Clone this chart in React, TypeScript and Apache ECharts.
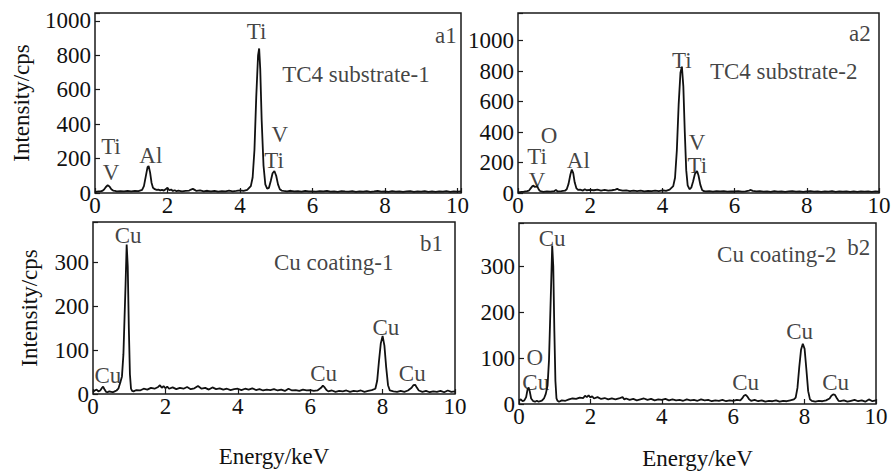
import React, { useEffect, useRef } from "react";
import * as echarts from "echarts";

// ---- Data: EDS spectra (energy keV, intensity cps) ----
const spectrumA1: [number, number][] = [
  [0, 5], [0.05, 8], [0.1, 10], [0.15, 9], [0.2, 12], [0.25, 20], [0.3, 35], [0.35, 45], [0.4, 38], [0.45, 22],
  [0.5, 14], [0.55, 12], [0.6, 10], [0.7, 11], [0.8, 9], [0.9, 12], [1.0, 10], [1.1, 12], [1.2, 11], [1.3, 18],
  [1.35, 40], [1.4, 95], [1.45, 150], [1.48, 157], [1.52, 120], [1.56, 60], [1.6, 30], [1.65, 22], [1.7, 18], [1.75, 20],
  [1.8, 15], [1.85, 18], [1.9, 14], [1.95, 22], [2.0, 30], [2.05, 16], [2.1, 20], [2.15, 12], [2.2, 16], [2.25, 10],
  [2.3, 14], [2.4, 10], [2.5, 12], [2.6, 14], [2.65, 20], [2.7, 24], [2.75, 18], [2.8, 12], [2.9, 15], [3.0, 10],
  [3.1, 13], [3.2, 9], [3.3, 12], [3.4, 8], [3.5, 11], [3.6, 9], [3.7, 14], [3.8, 10], [3.9, 12], [4.0, 15],
  [4.1, 12], [4.2, 18], [4.3, 40], [4.35, 90], [4.4, 250], [4.45, 560], [4.5, 800], [4.53, 840], [4.56, 720], [4.6, 420],
  [4.65, 160], [4.7, 50], [4.75, 25], [4.8, 30], [4.85, 70], [4.9, 115], [4.95, 128], [5.0, 100], [5.05, 50], [5.1, 22],
  [5.15, 14], [5.2, 12], [5.3, 10], [5.4, 13], [5.5, 9], [5.6, 11], [5.7, 8], [5.8, 12], [5.9, 9], [6.0, 10],
  [6.1, 8], [6.2, 11], [6.3, 9], [6.4, 12], [6.5, 8], [6.6, 10], [6.7, 7], [6.8, 11], [6.9, 9], [7.0, 8],
  [7.1, 11], [7.2, 7], [7.3, 10], [7.4, 8], [7.5, 11], [7.6, 7], [7.7, 9], [7.8, 12], [7.9, 8], [8.0, 10],
  [8.1, 7], [8.2, 11], [8.3, 8], [8.4, 10], [8.5, 6], [8.6, 9], [8.7, 11], [8.8, 7], [8.9, 10], [9.0, 8],
  [9.1, 11], [9.2, 7], [9.3, 9], [9.4, 6], [9.5, 10], [9.6, 8], [9.7, 11], [9.8, 7], [9.9, 9], [10.0, 8], [10.1, 9],
];

const spectrumA2: [number, number][] = [
  [0, 5], [0.05, 6], [0.1, 8], [0.15, 7], [0.2, 10], [0.25, 12], [0.3, 15], [0.35, 30], [0.4, 45], [0.43, 48],
  [0.46, 40], [0.5, 42], [0.53, 45], [0.56, 30], [0.6, 15], [0.65, 10], [0.7, 8], [0.8, 10], [0.9, 9], [1.0, 12],
  [1.05, 20], [1.1, 10], [1.2, 12], [1.3, 15], [1.35, 25], [1.4, 60], [1.45, 120], [1.49, 154], [1.53, 130], [1.57, 70],
  [1.62, 30], [1.67, 20], [1.72, 22], [1.8, 16], [1.85, 25], [1.9, 18], [2.0, 20], [2.1, 18], [2.2, 22], [2.3, 16],
  [2.4, 20], [2.5, 15], [2.6, 18], [2.7, 22], [2.75, 28], [2.8, 20], [2.9, 15], [3.0, 17], [3.1, 13], [3.2, 16],
  [3.3, 12], [3.4, 15], [3.5, 11], [3.6, 14], [3.7, 12], [3.8, 16], [3.9, 13], [4.0, 18], [4.1, 14], [4.2, 22],
  [4.3, 45], [4.35, 100], [4.4, 280], [4.45, 580], [4.5, 790], [4.54, 830], [4.58, 700], [4.62, 400], [4.66, 150], [4.7, 50],
  [4.75, 25], [4.8, 35], [4.85, 75], [4.9, 125], [4.96, 145], [5.0, 115], [5.05, 55], [5.1, 20], [5.15, 12], [5.2, 10],
  [5.3, 12], [5.4, 9], [5.5, 13], [5.6, 10], [5.7, 12], [5.8, 9], [5.9, 11], [6.0, 10], [6.1, 13], [6.2, 9],
  [6.3, 11], [6.4, 16], [6.45, 20], [6.5, 14], [6.6, 10], [6.7, 12], [6.8, 9], [6.9, 11], [7.0, 8], [7.1, 12],
  [7.2, 9], [7.3, 11], [7.4, 8], [7.5, 10], [7.6, 12], [7.7, 9], [7.8, 11], [7.9, 8], [8.0, 10], [8.1, 12],
  [8.2, 9], [8.3, 11], [8.4, 8], [8.5, 10], [8.6, 9], [8.7, 12], [8.8, 8], [8.9, 10], [9.0, 9], [9.1, 11],
  [9.2, 8], [9.3, 10], [9.4, 7], [9.5, 11], [9.6, 9], [9.7, 10], [9.8, 8], [9.9, 11], [10.0, 9],
];

const spectrumB1: [number, number][] = [
  [0, 5], [0.05, 8], [0.1, 10], [0.15, 6], [0.2, 8], [0.25, 14], [0.28, 17], [0.32, 10], [0.36, 5], [0.4, 4],
  [0.45, 6], [0.5, 5], [0.55, 4], [0.6, 6], [0.65, 8], [0.7, 12], [0.75, 25], [0.8, 40], [0.84, 90], [0.9, 250],
  [0.93, 340], [0.96, 290], [0.99, 150], [1.02, 45], [1.05, 12], [1.08, 7], [1.12, 6], [1.2, 9], [1.3, 8], [1.4, 12],
  [1.5, 10], [1.6, 14], [1.7, 12], [1.8, 16], [1.85, 20], [1.9, 14], [1.95, 18], [2.0, 13], [2.05, 17], [2.1, 12],
  [2.2, 15], [2.3, 11], [2.4, 14], [2.5, 12], [2.6, 16], [2.7, 11], [2.8, 13], [2.9, 18], [3.0, 12], [3.1, 14],
  [3.2, 10], [3.3, 15], [3.4, 11], [3.5, 13], [3.6, 10], [3.7, 12], [3.8, 9], [3.9, 11], [4.0, 12], [4.1, 9],
  [4.2, 12], [4.3, 10], [4.4, 13], [4.5, 9], [4.6, 11], [4.7, 8], [4.8, 10], [4.9, 9], [5.0, 11], [5.1, 8],
  [5.2, 10], [5.3, 7], [5.4, 12], [5.5, 8], [5.6, 9], [5.7, 7], [5.8, 10], [5.9, 8], [6.0, 9], [6.1, 7],
  [6.2, 8], [6.3, 14], [6.35, 19], [6.4, 15], [6.45, 9], [6.5, 6], [6.6, 8], [6.7, 5], [6.8, 7], [6.9, 6],
  [7.0, 8], [7.1, 5], [7.2, 7], [7.3, 6], [7.4, 8], [7.5, 5], [7.6, 7], [7.7, 9], [7.8, 12], [7.85, 30],
  [7.9, 75], [7.95, 115], [8.0, 132], [8.05, 110], [8.1, 60], [8.15, 20], [8.2, 8], [8.3, 6], [8.4, 5], [8.5, 7],
  [8.6, 5], [8.7, 8], [8.8, 14], [8.85, 20], [8.9, 21], [8.95, 14], [9.0, 8], [9.1, 5], [9.2, 7], [9.3, 4],
  [9.4, 6], [9.5, 5], [9.6, 7], [9.7, 4], [9.8, 8], [9.9, 5], [10.0, 6],
];

const spectrumB2: [number, number][] = [
  [0, 8], [0.05, 10], [0.1, 6], [0.15, 8], [0.2, 15], [0.24, 32], [0.27, 36], [0.3, 28], [0.34, 12], [0.4, 6],
  [0.45, 5], [0.5, 7], [0.55, 5], [0.6, 6], [0.65, 8], [0.7, 12], [0.75, 22], [0.8, 40], [0.84, 95], [0.9, 260],
  [0.93, 345], [0.96, 300], [0.99, 160], [1.02, 50], [1.05, 12], [1.08, 7], [1.12, 5], [1.2, 8], [1.3, 7], [1.4, 10],
  [1.5, 12], [1.6, 11], [1.7, 14], [1.8, 13], [1.85, 18], [1.9, 15], [1.95, 19], [2.0, 14], [2.05, 17], [2.1, 12],
  [2.2, 15], [2.3, 11], [2.4, 13], [2.5, 10], [2.6, 12], [2.7, 10], [2.8, 12], [2.9, 15], [2.95, 10], [3.0, 12],
  [3.1, 9], [3.2, 11], [3.3, 8], [3.4, 10], [3.5, 12], [3.6, 9], [3.7, 11], [3.8, 8], [3.9, 10], [4.0, 9],
  [4.1, 11], [4.2, 8], [4.3, 10], [4.4, 8], [4.5, 9], [4.6, 7], [4.7, 10], [4.8, 8], [4.9, 9], [5.0, 7],
  [5.1, 10], [5.2, 8], [5.3, 9], [5.4, 6], [5.5, 8], [5.6, 7], [5.7, 9], [5.8, 6], [5.9, 8], [6.0, 7],
  [6.1, 9], [6.2, 8], [6.25, 12], [6.3, 18], [6.35, 20], [6.4, 16], [6.45, 10], [6.5, 7], [6.6, 9], [6.7, 6],
  [6.8, 8], [6.9, 5], [7.0, 7], [7.1, 6], [7.2, 8], [7.3, 5], [7.4, 7], [7.5, 6], [7.6, 8], [7.7, 10],
  [7.75, 14], [7.8, 35], [7.85, 80], [7.9, 118], [7.95, 131], [8.0, 120], [8.05, 75], [8.1, 28], [8.15, 10], [8.2, 7],
  [8.3, 5], [8.4, 7], [8.5, 6], [8.6, 8], [8.7, 12], [8.75, 18], [8.8, 21], [8.85, 20], [8.9, 13], [8.95, 7],
  [9.0, 6], [9.1, 8], [9.2, 5], [9.3, 7], [9.4, 9], [9.5, 6], [9.6, 8], [9.7, 5], [9.8, 10], [9.9, 6], [10.0, 8],
];

// annotation texts at [energy, intensity]
const labelsA1: [number, number, string][] = [
  [4.46, 936, "Ti"], [9.68, 917, "a1"], [7.2, 690, "TC4 substrate-1"], [0.44, 272, "Ti"], [0.44, 118, "V"],
  [1.54, 219, "Al"], [5.1, 340, "V"], [4.94, 190, "Ti"],
];
const labelsA2: [number, number, string][] = [
  [9.47, 1049, "a2"], [4.54, 868, "Ti"], [7.36, 796, "TC4 substrate-2"], [4.96, 332, "V"], [4.97, 180, "Ti"],
  [1.67, 215, "Al"], [0.86, 375, "O"], [0.53, 240, "Ti"], [0.53, 84, "V"],
];
const labelsB1: [number, number, string][] = [
  [0.97, 360, "Cu"], [9.35, 341, "b1"], [6.65, 300, "Cu coating-1"], [0.41, 42, "Cu"], [6.37, 47, "Cu"],
  [8.09, 151, "Cu"], [8.82, 47, "Cu"],
];
const labelsB2: [number, number, string][] = [
  [0.93, 360, "Cu"], [9.52, 340, "b2"], [7.22, 325, "Cu coating-2"], [0.44, 101, "O"], [0.47, 47, "Cu"],
  [6.35, 47, "Cu"], [7.86, 158, "Cu"], [8.87, 47, "Cu"],
];

const xTickStep = 2;
const yTickStepA = 200;
const yTickStepB = 100;
const yNameText = "Intensity/cps";
const xNameText = "Energy/keV";

const FONT = "'Liberation Serif', 'Times New Roman', serif";
const INK = "#111";
const FS = 23;

export default function App() {
  const ref = useRef<HTMLDivElement>(null);
  useEffect(() => {
    document.body.style.margin = "0";
    if (!ref.current) return;
    const chart = echarts.init(ref.current, undefined, { renderer: "svg" });

    const grids = [
      { left: 95, top: 13, width: 366, height: 180 },
      { left: 518, top: 13, width: 361, height: 180 },
      { left: 93, top: 222, width: 362, height: 172 },
      { left: 519, top: 223, width: 357, height: 185 },
    ];
    const xMax = [10.1, 10, 10, 10];
    const yMax = [1046, 1182, 391, 394];
    const yStep = [yTickStepA, yTickStepA, yTickStepB, yTickStepB];
    const spectra = [spectrumA1, spectrumA2, spectrumB1, spectrumB2];
    const labels = [labelsA1, labelsA2, labelsB1, labelsB2];

    const fmt = (step: number) => (v: number) =>
      Math.abs(v / step - Math.round(v / step)) < 1e-6 ? String(Math.round(v)) : "";

    const option: any = {
      animation: false,
      backgroundColor: "#fff",
      textStyle: { fontFamily: FONT, color: INK },
      grid: grids.map((g) => ({ ...g, show: true, borderColor: "#1a1a1a", borderWidth: 1.5, backgroundColor: "transparent" })),
      xAxis: grids.map((_, i) => ({
        type: "value",
        gridIndex: i,
        min: 0,
        max: xMax[i],
        interval: xTickStep,
        axisLine: { show: false },
        axisTick: { show: true, inside: true, length: 5, lineStyle: { color: "#1a1a1a", width: 1.2 } },
        axisLabel: { fontFamily: FONT, fontSize: FS, color: INK, margin: 1, formatter: fmt(xTickStep) },
        splitLine: { show: false },
        name: i >= 2 ? xNameText : "",
        nameLocation: "middle",
        nameGap: i === 2 ? 51 : 43,
        nameTextStyle: { fontFamily: FONT, fontSize: FS, color: INK, verticalAlign: "top" },
      })),
      yAxis: grids.map((_, i) => ({
        type: "value",
        gridIndex: i,
        min: 0,
        max: yMax[i],
        interval: yStep[i],
        axisLine: { show: false },
        axisTick: { show: true, inside: true, length: 5, lineStyle: { color: "#1a1a1a", width: 1.2 } },
        axisLabel: { fontFamily: FONT, fontSize: FS, color: INK, margin: 4, formatter: fmt(yStep[i]) },
        splitLine: { show: false },
        name: i === 0 || i === 2 ? yNameText : "",
        nameLocation: "middle",
        nameGap: i === 0 ? 62 : 52,
        nameTextStyle: { fontFamily: FONT, fontSize: FS, color: INK },
      })),
      series: [
        ...spectra.map((d, i) => ({
          type: "line",
          xAxisIndex: i,
          yAxisIndex: i,
          data: d,
          showSymbol: false,
          symbol: "none",
          lineStyle: { color: "#111", width: 1.8 },
          z: 3,
        })),
        ...labels.map((l, i) => ({
          type: "scatter",
          xAxisIndex: i,
          yAxisIndex: i,
          data: l,
          symbolSize: 1,
          itemStyle: { color: "rgba(0,0,0,0)" },
          silent: true,
          z: 4,
          label: {
            show: true,
            position: "inside",
            formatter: (p: any) => p.data[2],
            fontFamily: FONT,
            fontSize: FS,
            lineHeight: FS,
            color: INK,
          },
          labelLayout: { hideOverlap: false },
        })),
      ],
    };
    chart.setOption(option);
    return () => chart.dispose();
  }, []);
  return <div ref={ref} style={{ width: 895, height: 471 }} />;
}
